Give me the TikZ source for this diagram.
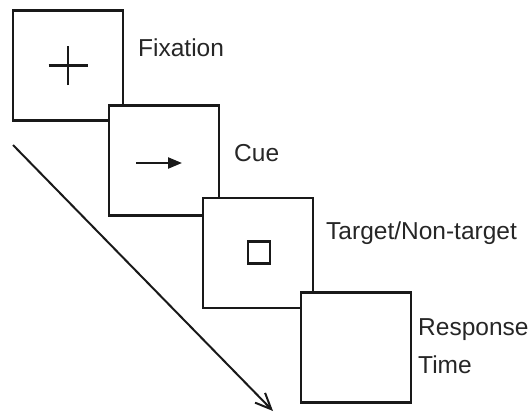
\documentclass[tikz,border=0pt]{standalone}
\usepackage{fontspec}
\setmainfont{Liberation Sans}
\usetikzlibrary{arrows.meta}
\begin{document}
\begin{tikzpicture}[x=1pt,y=-1pt,
  frame/.style={draw=black!90,fill=white,line width=2.6pt,minimum size=110pt,inner sep=0pt},
  caption/.style={anchor=base west,inner sep=0pt,font=\fontsize{24.5}{28}\selectfont,text=black!85},
  glyph/.style={line width=2.2pt,draw=black!90}]
\useasboundingbox (0,0) rectangle (532,413);
% time axis
\coordinate (ts) at (13,145);
\coordinate (te) at (273,411);
\draw[line width=2pt,draw=black!90,-{Straight Barb[length=16pt,width=14pt,line width=2pt]}] (ts) -- (te);
% stimulus screens, each drawn over the previous one
\node[frame] (b1) at (68,65.5) {};
\node[frame] (b2) at (164,160.5) {};
\node[frame] (b3) at (258,253) {};
\node[frame] (b4) at (356,347.5) {};
% fixation cross
\draw[glyph] ([xshift=-19.5pt]b1.center) -- ([xshift=19.5pt]b1.center);
\draw[glyph] ([yshift=-19.5pt]b1.center) -- ([yshift=19.5pt]b1.center);
% cue arrow
\coordinate (ca) at (136,163);
\coordinate (cb) at (182,163);
\draw[glyph,-{Triangle[length=14pt,width=11pt]}] (ca) -- (cb);
% target
\node[draw=black!90,line width=2.2pt,minimum size=22pt,inner sep=0pt] (tg) at (259,252.5) {};
% labels
\node[caption] (l1) at (138,56) {Fixation};
\node[caption] (l2) at (234,161) {Cue};
\node[caption] (l3) at (326,239) {Target/Non-target};
\node[caption] (l4) at (418,335) {Response};
\node[caption] (l5) at (418,373) {Time};
\end{tikzpicture}
\end{document}
